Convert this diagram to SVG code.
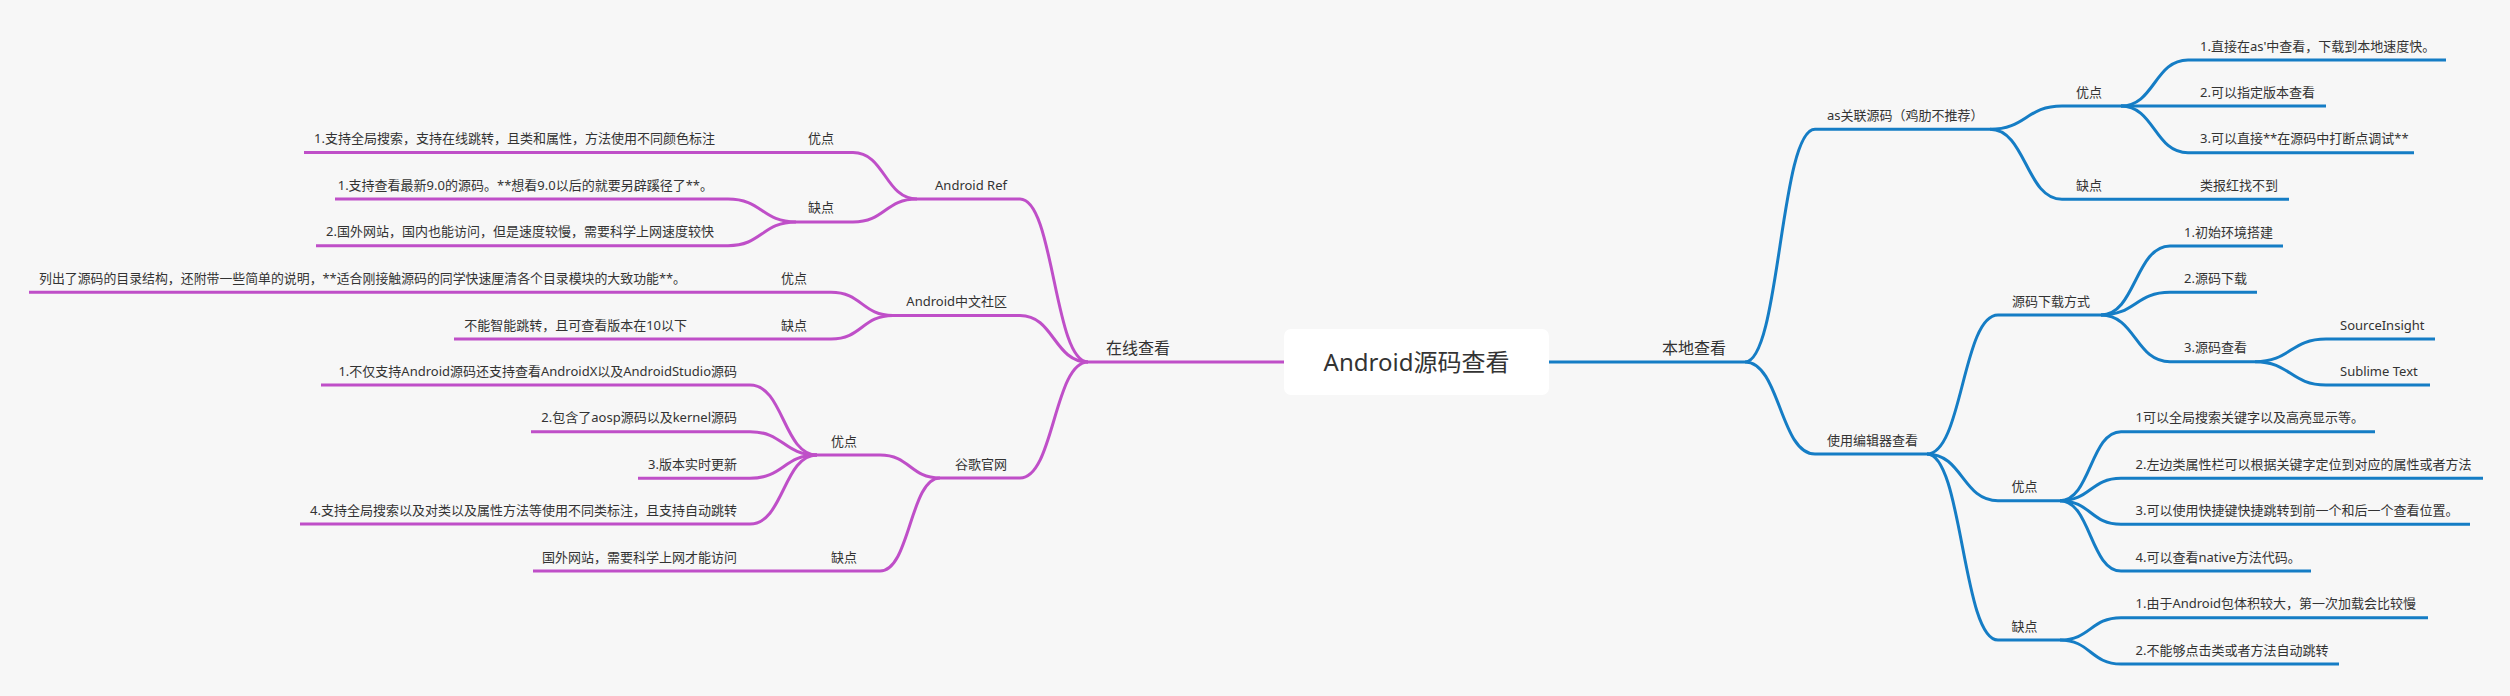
<svg xmlns="http://www.w3.org/2000/svg" width="2510" height="696" viewBox="0 0 2510 696">
<style>
.t{font-family:"Noto Sans","Noto Sans CJK SC",sans-serif;font-size:13px;fill:#333}
.e{text-anchor:end}
.m{font-size:16px}
.r{font-size:24px;text-anchor:middle}
.p{fill:none;stroke:#BF4FC8;stroke-width:3}
.b{fill:none;stroke:#157DC5;stroke-width:3}
</style>
<rect width="2510" height="696" fill="#F7F7F7"/>
<g id="connectors">
<g class="p">
<path d="M1284 362H1088"/>
<path d="M1088 362C1054 362 1054 199 1020 199H917"/>
<path d="M1088 362C1054 362 1054 315.5 1020 315.5H893"/>
<path d="M1088 362C1054 362 1054 478 1020 478H940"/>
<path d="M917 199C885 199 885 152.5 853 152.5H304"/>
<path d="M917 199C885 199 885 222 853 222H796"/>
<path d="M796 222C762 222 762 199 728 199H335"/>
<path d="M796 222C762 222 762 245.7 728 245.7H316"/>
<path d="M893 315.5C862 315.5 862 292.3 831 292.3H29"/>
<path d="M893 315.5C862 315.5 862 339 831 339H454"/>
<path d="M940 478C910 478 910 455 880 455H817"/>
<path d="M940 478C910 478 910 571 880 571H533"/>
<path d="M817 455C783.5 455 783.5 385 750 385H321"/>
<path d="M817 455C783.5 455 783.5 431.7 750 431.7H531"/>
<path d="M817 455C783.5 455 783.5 478.3 750 478.3H638"/>
<path d="M817 455C783.5 455 783.5 524 750 524H300"/>
</g>
<g class="b">
<path d="M1549 362H1745"/>
<path d="M1745 362C1780 362 1780 129.3 1815 129.3H1990"/>
<path d="M1745 362C1780 362 1780 454 1815 454H1927"/>
<path d="M1990 129.3C2026 129.3 2026 106 2062 106H2326"/>
<path d="M1990 129.3C2026 129.3 2026 199.3 2062 199.3H2289"/>
<path d="M2121 106C2154.5 106 2154.5 60 2188 60H2446"/>
<path d="M2121 106C2154.5 106 2154.5 152.7 2188 152.7H2414"/>
<path d="M1927 454C1962.5 454 1962.5 315 1998 315H2101"/>
<path d="M1927 454C1962.5 454 1962.5 500.7 1998 500.7H2060"/>
<path d="M1927 454C1962.5 454 1962.5 640 1998 640H2060"/>
<path d="M2101 315C2135.5 315 2135.5 246 2170 246H2283"/>
<path d="M2101 315C2135.5 315 2135.5 292.3 2170 292.3H2257"/>
<path d="M2101 315C2135.5 315 2135.5 361.7 2170 361.7H2255"/>
<path d="M2255 361.7C2290.5 361.7 2290.5 339 2326 339H2435"/>
<path d="M2255 361.7C2290.5 361.7 2290.5 385 2326 385H2430"/>
<path d="M2060 500.7C2090.5 500.7 2090.5 431.7 2121 431.7H2375"/>
<path d="M2060 500.7C2090.5 500.7 2090.5 478.3 2121 478.3H2483"/>
<path d="M2060 500.7C2090.5 500.7 2090.5 524.3 2121 524.3H2470"/>
<path d="M2060 500.7C2090.5 500.7 2090.5 571 2121 571H2311"/>
<path d="M2060 640C2090.5 640 2090.5 617.7 2121 617.7H2428"/>
<path d="M2060 640C2090.5 640 2090.5 664 2121 664H2339"/>
</g>
</g>
<g id="root"><rect x="1284" y="329" width="265" height="66" rx="7" fill="#FFFFFF"/><text class="t r" x="1416.5" y="371">Android源码查看</text></g>
<g id="online"><text class="t m" x="1106" y="354">在线查看</text></g>
<g id="androidref"><text class="t e" x="1007" y="189.5">Android Ref</text></g>
<g id="ref-pro"><text class="t e" x="834" y="143">优点</text></g>
<g id="ref-pro-1"><text class="t e" x="715" y="143">1.支持全局搜索，支持在线跳转，且类和属性，方法使用不同颜色标注</text></g>
<g id="ref-con"><text class="t e" x="834" y="212">缺点</text></g>
<g id="ref-con-1"><text class="t e" x="713" y="189.5">1.支持查看最新9.0的源码。**想看9.0以后的就要另辟蹊径了**。</text></g>
<g id="ref-con-2"><text class="t e" x="714" y="236">2.国外网站，国内也能访问，但是速度较慢，需要科学上网速度较快</text></g>
<g id="cn"><text class="t e" x="1007" y="306">Android中文社区</text></g>
<g id="cn-pro"><text class="t e" x="807" y="283">优点</text></g>
<g id="cn-pro-1"><text class="t e" x="686" y="283" textLength="647" lengthAdjust="spacingAndGlyphs">列出了源码的目录结构，还附带一些简单的说明，**适合刚接触源码的同学快速厘清各个目录模块的大致功能**。</text></g>
<g id="cn-con"><text class="t e" x="807" y="329.5">缺点</text></g>
<g id="cn-con-1"><text class="t e" x="687" y="329.5">不能智能跳转，且可查看版本在10以下</text></g>
<g id="google"><text class="t e" x="1007" y="468.5">谷歌官网</text></g>
<g id="g-pro"><text class="t e" x="857" y="445.5">优点</text></g>
<g id="g-pro-1"><text class="t e" x="737" y="375.5">1.不仅支持Android源码还支持查看AndroidX以及AndroidStudio源码</text></g>
<g id="g-pro-2"><text class="t e" x="737" y="422">2.包含了aosp源码以及kernel源码</text></g>
<g id="g-pro-3"><text class="t e" x="737" y="469">3.版本实时更新</text></g>
<g id="g-pro-4"><text class="t e" x="737" y="514.5">4.支持全局搜索以及对类以及属性方法等使用不同类标注，且支持自动跳转</text></g>
<g id="g-con"><text class="t e" x="857" y="561.5">缺点</text></g>
<g id="g-con-1"><text class="t e" x="737" y="561.5">国外网站，需要科学上网才能访问</text></g>
<g id="local"><text class="t m" x="1662" y="354">本地查看</text></g>
<g id="as"><text class="t" x="1827" y="120">as关联源码（鸡肋不推荐）</text></g>
<g id="as-pro"><text class="t" x="2076" y="96.5">优点</text></g>
<g id="as-pro-1"><text class="t" x="2200" y="50.5">1.直接在as'中查看，下载到本地速度快。</text></g>
<g id="as-pro-2"><text class="t" x="2200" y="96.5">2.可以指定版本查看</text></g>
<g id="as-pro-3"><text class="t" x="2200" y="143">3.可以直接**在源码中打断点调试**</text></g>
<g id="as-con"><text class="t" x="2076" y="190">缺点</text></g>
<g id="as-con-1"><text class="t" x="2200" y="190">类报红找不到</text></g>
<g id="editor"><text class="t" x="1827" y="444.5">使用编辑器查看</text></g>
<g id="dl"><text class="t" x="2012" y="305.5">源码下载方式</text></g>
<g id="dl-1"><text class="t" x="2184" y="236.5">1.初始环境搭建</text></g>
<g id="dl-2"><text class="t" x="2184" y="283">2.源码下载</text></g>
<g id="dl-3"><text class="t" x="2184" y="352">3.源码查看</text></g>
<g id="si"><text class="t" x="2340" y="329.5">SourceInsight</text></g>
<g id="st"><text class="t" x="2340" y="375.5">Sublime Text</text></g>
<g id="ed-pro"><text class="t" x="2011.5" y="491">优点</text></g>
<g id="ed-pro-1"><text class="t" x="2135.5" y="422">1可以全局搜索关键字以及高亮显示等。</text></g>
<g id="ed-pro-2"><text class="t" x="2135.5" y="469">2.左边类属性栏可以根据关键字定位到对应的属性或者方法</text></g>
<g id="ed-pro-3"><text class="t" x="2135.5" y="515">3.可以使用快捷键快捷跳转到前一个和后一个查看位置。</text></g>
<g id="ed-pro-4"><text class="t" x="2135.5" y="561.5">4.可以查看native方法代码。</text></g>
<g id="ed-con"><text class="t" x="2011.5" y="630.5">缺点</text></g>
<g id="ed-con-1"><text class="t" x="2135.5" y="608">1.由于Android包体积较大，第一次加载会比较慢</text></g>
<g id="ed-con-2"><text class="t" x="2135.5" y="654.5">2.不能够点击类或者方法自动跳转</text></g>
</svg>
